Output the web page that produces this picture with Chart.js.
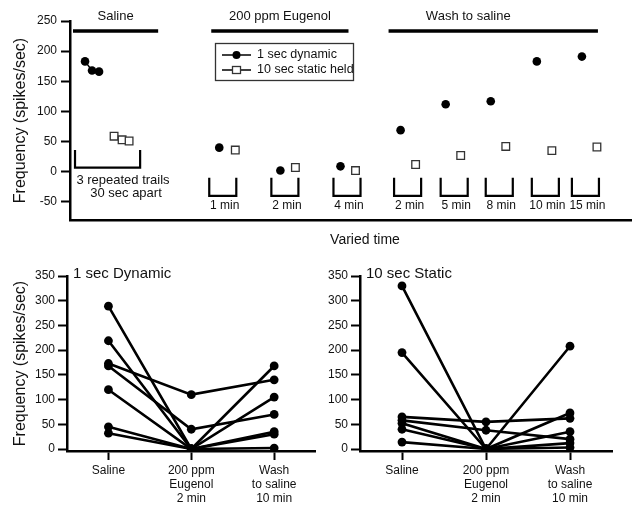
<!DOCTYPE html>
<html>
<head>
<meta charset="utf-8">
<script src="https://cdn.jsdelivr.net/npm/chart.js@4.4.0/dist/chart.umd.min.js"></script>
<style>
body{margin:0;background:#fff;width:632px;height:505px;position:relative;overflow:hidden}
canvas{position:absolute}
#top{left:0;top:0}
#dyn{left:0;top:255px}
#stat{left:320px;top:255px}
</style>
</head>
<body>
<canvas id="top" width="632" height="255"></canvas>
<canvas id="dyn" width="320" height="250"></canvas>
<canvas id="stat" width="312" height="250"></canvas>
<script>
// верхняя панель: три повтора в солевом растворе, затем эвгенол и отмывка
var salineDynX = [1.5, 2.2, 2.9], salineDynY = [183, 168, 166];
var salineStatX = [4.4, 5.2, 5.9], salineStatY = [59, 53, 51];
var timeLabels = ['1 min', '2 min', '4 min', '2 min', '5 min', '8 min', '10 min', '15 min'];
var timePos = [15.25, 21.45, 27.65, 33.7, 38.35, 42.85, 47.45, 51.45]; // центры скобок по оси x
var dynX = [14.9, 21.0, 27.0, 33.0, 37.5, 42.0, 46.6, 51.1];
var dynY = [40, 2, 9, 69, 112, 117, 183, 191];
var statX = [16.5, 22.5, 28.5, 34.5, 39.0, 43.5, 48.1, 52.6];
var statY = [36, 7, 2, 12, 27, 42, 35, 41];
var groups = ['Saline', '200 ppm Eugenol', 'Wash to saline'];
var topTicks = [-50, 0, 50, 100, 150, 200, 250];

// нижние панели: 7 препаратов, по три условия
var conditions = [['Saline'], ['200 ppm', 'Eugenol', '2 min'], ['Wash', 'to saline', '10 min']];
var dynSaline = [289, 219, 173, 168, 120, 45, 32];
var dynEugenol = [0, 0, 110, 40, 0, 0, 0];
var dynWash = [168, 105, 140, 70, 35, 30, 2];
var statSaline = [330, 195, 65, 58, 52, 40, 14];
var statEugenol = [0, 0, 55, 38, 0, 0, 0];
var statWash = [12, 3, 62, 20, 73, 35, 208];
var bottomTicks = [0, 50, 100, 150, 200, 250, 300, 350];

Chart.defaults.font.family = 'Liberation Sans, Arial, sans-serif';
Chart.defaults.color = '#111';
Chart.defaults.animation = false;

var F = 'Liberation Sans, Arial, sans-serif';

function pts(xs, ys){ //склеиваем координаты в точки
    return xs.map(function(x, i){ return {x: x, y: ys[i]}; });
}

function fixedTicks(list){ //ставим ровно те деления, что на рисунке
    return function(scale){
        scale.ticks = list.map(function(v){ return {value: v}; });
    };
}

var topDecor = {
    id: 'topDecor',
    afterDraw: function(chart){
        var ctx = chart.ctx, xs = chart.scales.x, ys = chart.scales.y;
        var px = function(v){ return xs.getPixelForValue(v); };
        var py = function(v){ return ys.getPixelForValue(v); };
        ctx.save();
        ctx.strokeStyle = '#000';
        ctx.fillStyle = '#111';
        // полосы групп сверху
        var spans = [[0.3, 8.8], [14.1, 27.8], [31.8, 52.7]];
        ctx.lineWidth = 3.5;
        ctx.font = '13px ' + F;
        ctx.textAlign = 'center';
        ctx.textBaseline = 'middle';
        spans.forEach(function(s, i){
            ctx.beginPath();
            ctx.moveTo(px(s[0]), py(233.5));
            ctx.lineTo(px(s[1]), py(233.5));
            ctx.stroke();
            ctx.fillText(groups[i], (px(s[0]) + px(s[1])) / 2 + (i == 2 ? -25 : 0), 16);
        });
        // скобки времени
        ctx.lineWidth = 2.2;
        ctx.font = '12px ' + F;
        timePos.forEach(function(c, i){
            var l = px(c - 1.35), r = px(c + 1.35), t = py(-10), b = py(-40);
            ctx.beginPath();
            ctx.moveTo(l, t); ctx.lineTo(l, b); ctx.lineTo(r, b); ctx.lineTo(r, t);
            ctx.stroke();
            ctx.fillText(timeLabels[i], px(c) + 2, 206);
        });
        // скобка повторов в солевом растворе
        ctx.beginPath();
        ctx.moveTo(px(0.5), py(36)); ctx.lineTo(px(0.5), py(7));
        ctx.lineTo(px(7.0), py(7)); ctx.lineTo(px(7.0), py(36));
        ctx.stroke();
        ctx.font = '13px ' + F;
        ctx.fillText('3 repeated trails', 123, 180);
        ctx.fillText('30 sec apart', 126, 193);
        ctx.font = '14px ' + F;
        ctx.fillText('Varied time', 365, 240);
        // легенда в рамке
        ctx.lineWidth = 1.3;
        ctx.strokeStyle = '#333';
        ctx.strokeRect(215.5, 43.5, 138, 37);
        ctx.font = '12.5px ' + F;
        ctx.textAlign = 'left';
        chart.data.datasets.slice(0, 2).forEach(function(ds, i){
            var y = 55 + i * 15;
            ctx.strokeStyle = '#000';
            ctx.lineWidth = 1.5;
            ctx.beginPath(); ctx.moveTo(222, y); ctx.lineTo(251, y); ctx.stroke();
            if (i === 0) {
                ctx.fillStyle = '#000';
                ctx.beginPath(); ctx.arc(236.5, y, 4, 0, Math.PI * 2); ctx.fill();
            } else {
                ctx.fillStyle = '#fff';
                ctx.strokeStyle = '#333';
                ctx.lineWidth = 1.3;
                ctx.fillRect(232.5, y - 3.5, 8, 7);
                ctx.strokeRect(232.5, y - 3.5, 8, 7);
            }
            ctx.fillStyle = '#111';
            ctx.fillText(ds.label, 257, y);
        });
        ctx.restore();
    }
};

new Chart(document.getElementById('top'), {
    type: 'scatter',
    data: {
        datasets: [
            {label: '1 sec dynamic', data: pts(salineDynX, salineDynY), showLine: true,
             borderColor: '#000', borderWidth: 1.5, backgroundColor: '#000',
             pointStyle: 'circle', pointRadius: 4.3, pointBorderWidth: 0},
            {label: '10 sec static held', data: pts(salineStatX, salineStatY), showLine: true,
             borderColor: '#333', borderWidth: 1.5, backgroundColor: '#fff',
             pointStyle: 'rect', pointRadius: 5.4, pointBorderWidth: 1.3},
            {label: 'dyn', data: pts(dynX, dynY), showLine: false,
             borderColor: '#000', backgroundColor: '#000',
             pointStyle: 'circle', pointRadius: 4.3, pointBorderWidth: 0},
            {label: 'stat', data: pts(statX, statY), showLine: false,
             borderColor: '#333', backgroundColor: '#fff',
             pointStyle: 'rect', pointRadius: 5.4, pointBorderWidth: 1.3}
        ]
    },
    options: {
        responsive: false,
        layout: {autoPadding: false, padding: {top: 21, left: 0, right: 0, bottom: 0}},
        plugins: {legend: {display: false}, tooltip: {enabled: false}},
        scales: {
            x: {
                type: 'linear', min: 0, max: 56.1,
                ticks: {display: false},
                grid: {display: false},
                border: {color: '#000', width: 2.5},
                afterFit: function(s){ s.height = 35; }
            },
            y: {
                min: -80, max: 250,
                ticks: {font: {size: 12}, padding: 4, color: '#111'},
                afterBuildTicks: fixedTicks(topTicks),
                grid: {drawOnChartArea: false, tickLength: 9, tickWidth: 2, tickColor: '#000'},
                border: {color: '#000', width: 2.5},
                title: {display: true, text: 'Frequency (spikes/sec)', font: {size: 16}, padding: {top: 11, bottom: 0}, color: '#111'},
                afterFit: function(s){ s.width = 70; }
            }
        }
    },
    plugins: [topDecor]
});

function panelTitle(text){
    return {
        id: 'panelTitle',
        afterDraw: function(chart){
            var ctx = chart.ctx;
            ctx.save();
            ctx.font = '15px ' + F;
            ctx.fillStyle = '#111';
            ctx.textAlign = 'left';
            ctx.textBaseline = 'middle';
            ctx.fillText(text, chart.chartArea.left + 6, 19);
            ctx.restore();
        }
    };
}

function makePanel(id, title, saline, eugenol, wash, leftW, padRight, showTitle){
    var sets = saline.map(function(v, i){
        return {
            label: 'prep ' + (i + 1),
            data: [v, eugenol[i], wash[i]],
            borderColor: '#000', backgroundColor: '#000',
            borderWidth: 2.6, pointRadius: 4.4, pointBorderWidth: 0,
            tension: 0
        };
    });
    new Chart(document.getElementById(id), {
        type: 'line',
        data: {labels: conditions, datasets: sets},
        options: {
            responsive: false,
            layout: {padding: {top: 21, left: 0, right: padRight, bottom: 0}},
            plugins: {legend: {display: false}, tooltip: {enabled: false}},
            scales: {
                x: {
                    type: 'category', offset: true,
                    ticks: {font: {size: 12}, padding: 3, maxRotation: 0, autoSkip: false, color: '#111'},
                    grid: {drawOnChartArea: false, tickLength: 9, tickWidth: 2, tickColor: '#000'},
                    border: {color: '#000', width: 2.5},
                    afterFit: function(s){ s.height = 54; }
                },
                y: {
                    min: -4, max: 350,
                    ticks: {font: {size: 12}, padding: 3, color: '#111'},
                    afterBuildTicks: fixedTicks(bottomTicks),
                    grid: {drawOnChartArea: false, tickLength: 9, tickWidth: 2, tickColor: '#000'},
                    border: {color: '#000', width: 2.5},
                    title: {display: showTitle, text: 'Frequency (spikes/sec)', font: {size: 16}, padding: {top: 11, bottom: 0}, color: '#111'},
                    afterFit: function(s){ s.width = leftW; }
                }
            }
        },
        plugins: [panelTitle(title)]
    });
}

makePanel('dyn', '1 sec Dynamic', dynSaline, dynEugenol, dynWash, 67, 0, true);
makePanel('stat', '10 sec Static', statSaline, statEugenol, statWash, 40, 20, false);
</script>
</body>
</html>
